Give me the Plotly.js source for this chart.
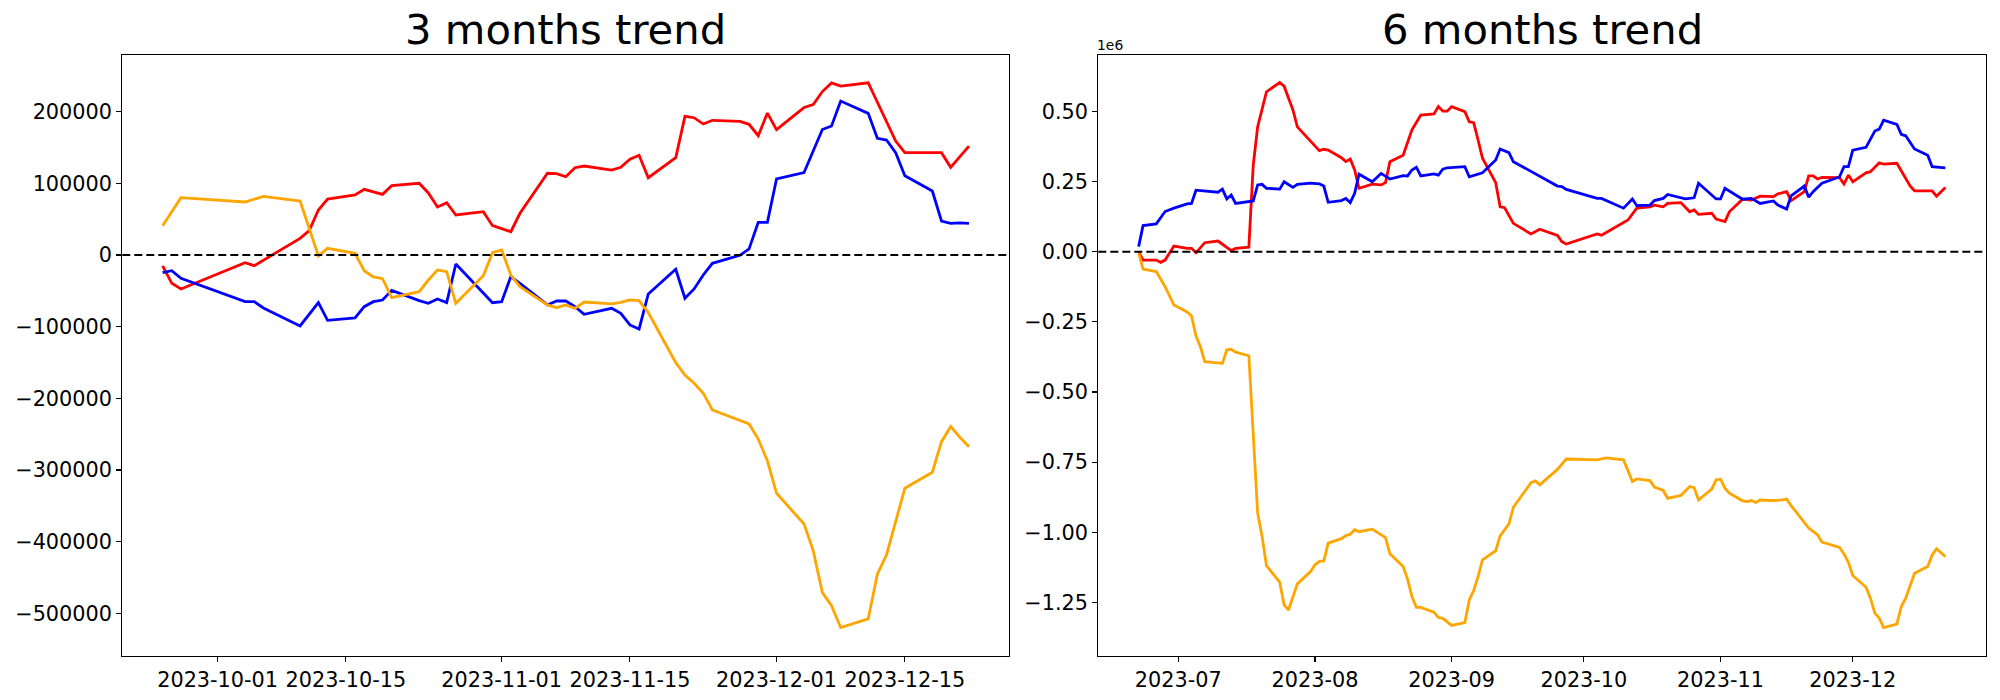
<!DOCTYPE html>
<html>
<head>
<meta charset="utf-8">
<script src="https://cdn.plot.ly/plotly-3.0.1.min.js"></script>
<style>html,body{margin:0;padding:0;background:#fff;}#chart{width:2000px;height:700px;}</style>
</head>
<body>
<div id="chart"></div>
<script>
// ---------- 3 months trend (left) ----------
const dates3 = ['2023-09-25','2023-09-26','2023-09-27','2023-10-04','2023-10-05','2023-10-06','2023-10-10','2023-10-11','2023-10-12','2023-10-13',
  '2023-10-16','2023-10-17','2023-10-18','2023-10-19','2023-10-20','2023-10-23','2023-10-24','2023-10-25','2023-10-26','2023-10-27',
  '2023-10-30','2023-10-31','2023-11-01','2023-11-02','2023-11-03','2023-11-06','2023-11-07','2023-11-08','2023-11-09','2023-11-10',
  '2023-11-13','2023-11-14','2023-11-15','2023-11-16','2023-11-17','2023-11-20','2023-11-21','2023-11-22','2023-11-23','2023-11-24',
  '2023-11-27','2023-11-28','2023-11-29','2023-11-30','2023-12-01','2023-12-04','2023-12-05','2023-12-06','2023-12-07','2023-12-08',
  '2023-12-11','2023-12-12','2023-12-13','2023-12-14','2023-12-15','2023-12-18','2023-12-19','2023-12-20','2023-12-21','2023-12-22'];
const red3 = [-15300,-39500,-47400,-10700,-14900,-7100,23200,33900,62800,78100,
  83700,91600,88300,84600,96700,100000,86500,67000,73000,55800,
  60400,40900,36700,32500,58200,114000,113400,109200,121800,124100,
  118500,122300,133500,139100,107800,135700,193400,191500,182700,187900,
  186500,182300,166400,198000,174800,205700,210000,228000,240000,235700,
  240300,213000,186100,159000,142700,142700,142700,122300,137000,152000];
const blue3 = [-24600,-21900,-32600,-65100,-65100,-73900,-99000,-82700,-66500,-91100,
  -87900,-72100,-65100,-62800,-49300,-63700,-67400,-61400,-66500,-12600,
  -52000,-66500,-65100,-30200,-39500,-69700,-64200,-64200,-72100,-82700,
  -74400,-81300,-97600,-103200,-54400,-20000,-60400,-47400,-27900,-11600,
  -400,8400,45600,45600,106000,115000,145000,175000,180000,214800,
  197600,162800,160400,142700,110600,89300,47400,44200,44700,44200];
const orange3 = [40900,60400,79900,73900,77800,81800,75300,37000,-1400,9300,
  2300,-21900,-30700,-33000,-59500,-51100,-34900,-20900,-23200,-67400,
  -28800,3200,7000,-27900,-44200,-69700,-73500,-69700,-74400,-65600,
  -68300,-66000,-62800,-63700,-80400,-150200,-167400,-178900,-192900,-216200,
  -231100,-235700,-256800,-287100,-332400,-375200,-412400,-471000,-489100,-519800,
  -507700,-445300,-418400,-372800,-325400,-303100,-260400,-239500,-254300,-267400];
const ticks3 = ['2023-10-01','2023-10-15','2023-11-01','2023-11-15','2023-12-01','2023-12-15'];
const yTicks3 = [-500000,-400000,-300000,-200000,-100000,0,100000,200000];

// ---------- 6 months trend (right), values in units of 1e6 ----------
const dates6Red = ['2023-06-22','2023-06-23','2023-06-26','2023-06-27','2023-06-28','2023-06-30','2023-07-03','2023-07-04','2023-07-05','2023-07-07',
  '2023-07-10','2023-07-13','2023-07-14','2023-07-17','2023-07-18','2023-07-19','2023-07-21','2023-07-24','2023-07-25','2023-07-27',
  '2023-07-28','2023-08-02','2023-08-03','2023-08-04','2023-08-07','2023-08-08','2023-08-09','2023-08-10','2023-08-11','2023-08-14',
  '2023-08-16','2023-08-17','2023-08-18','2023-08-21','2023-08-23','2023-08-25','2023-08-28','2023-08-29','2023-08-30','2023-08-31',
  '2023-09-01','2023-09-04','2023-09-05','2023-09-06','2023-09-07','2023-09-08','2023-09-11','2023-09-12','2023-09-13','2023-09-15',
  '2023-09-19','2023-09-21','2023-09-25','2023-09-26','2023-09-27','2023-10-04','2023-10-05','2023-10-10','2023-10-11','2023-10-13',
  '2023-10-16','2023-10-17','2023-10-19','2023-10-20','2023-10-23','2023-10-25','2023-10-26','2023-10-27','2023-10-30','2023-10-31',
  '2023-11-02','2023-11-03','2023-11-06','2023-11-08','2023-11-10','2023-11-13','2023-11-14','2023-11-16','2023-11-17','2023-11-20',
  '2023-11-21','2023-11-22','2023-11-23','2023-11-24','2023-11-28','2023-11-29','2023-11-30','2023-12-01','2023-12-04','2023-12-05',
  '2023-12-07','2023-12-08','2023-12-11','2023-12-14','2023-12-15','2023-12-19','2023-12-20','2023-12-22'];
const red6 = [0.000,-0.030,-0.030,-0.038,-0.030,0.020,0.012,0.012,-0.004,0.032,
  0.038,0.004,0.012,0.016,0.309,0.445,0.570,0.603,0.590,0.505,
  0.445,0.360,0.365,0.362,0.335,0.321,0.330,0.291,0.226,0.241,
  0.238,0.246,0.321,0.344,0.434,0.487,0.491,0.517,0.501,0.501,
  0.517,0.499,0.463,0.460,0.398,0.333,0.246,0.160,0.157,0.101,
  0.063,0.080,0.058,0.036,0.027,0.063,0.059,0.103,0.113,0.155,
  0.160,0.166,0.160,0.172,0.175,0.142,0.149,0.133,0.137,0.116,
  0.107,0.142,0.187,0.184,0.198,0.196,0.206,0.214,0.182,0.214,
  0.270,0.270,0.259,0.265,0.264,0.241,0.273,0.249,0.281,0.285,
  0.317,0.312,0.315,0.234,0.217,0.217,0.198,0.229];

const dates6Blue = ['2023-06-22','2023-06-23','2023-06-26','2023-06-27','2023-06-28','2023-06-30','2023-07-03','2023-07-04','2023-07-05','2023-07-10',
  '2023-07-11','2023-07-12','2023-07-13','2023-07-14','2023-07-18','2023-07-19','2023-07-20','2023-07-21','2023-07-24','2023-07-25',
  '2023-07-27','2023-07-28','2023-07-31','2023-08-02','2023-08-03','2023-08-04','2023-08-07','2023-08-08','2023-08-09','2023-08-10',
  '2023-08-11','2023-08-14','2023-08-16','2023-08-18','2023-08-21','2023-08-22','2023-08-23','2023-08-24','2023-08-25','2023-08-28',
  '2023-08-29','2023-08-30','2023-08-31','2023-09-04','2023-09-05','2023-09-08','2023-09-11','2023-09-12','2023-09-14','2023-09-15',
  '2023-09-19','2023-09-22','2023-09-25','2023-09-26','2023-09-27','2023-10-04','2023-10-05','2023-10-10','2023-10-12','2023-10-13',
  '2023-10-16','2023-10-17','2023-10-19','2023-10-20','2023-10-24','2023-10-26','2023-10-27','2023-10-31','2023-11-01','2023-11-02',
  '2023-11-06','2023-11-08','2023-11-10','2023-11-13','2023-11-14','2023-11-16','2023-11-17','2023-11-20','2023-11-21','2023-11-22',
  '2023-11-24','2023-11-27','2023-11-28','2023-11-29','2023-11-30','2023-12-01','2023-12-04','2023-12-06','2023-12-07','2023-12-08',
  '2023-12-11','2023-12-12','2023-12-13','2023-12-15','2023-12-18','2023-12-19','2023-12-20','2023-12-22'];
const blue6 = [0.018,0.093,0.099,0.119,0.143,0.155,0.170,0.172,0.219,0.212,
  0.223,0.188,0.202,0.172,0.181,0.238,0.240,0.226,0.223,0.249,
  0.229,0.240,0.244,0.242,0.234,0.176,0.182,0.190,0.175,0.208,
  0.276,0.249,0.279,0.259,0.271,0.270,0.291,0.301,0.270,0.277,
  0.273,0.294,0.299,0.303,0.267,0.281,0.327,0.366,0.353,0.321,
  0.285,0.259,0.234,0.232,0.222,0.190,0.190,0.155,0.188,0.164,
  0.166,0.182,0.190,0.204,0.188,0.192,0.244,0.188,0.188,0.226,
  0.187,0.190,0.172,0.181,0.166,0.152,0.199,0.234,0.194,0.214,
  0.244,0.261,0.267,0.303,0.303,0.362,0.372,0.430,0.437,0.469,
  0.454,0.418,0.413,0.366,0.344,0.303,0.301,0.299];

const dates6Orange = ['2023-06-22','2023-06-23','2023-06-26','2023-06-28','2023-06-30','2023-07-03','2023-07-04','2023-07-05','2023-07-06','2023-07-07',
  '2023-07-11','2023-07-12','2023-07-13','2023-07-14','2023-07-17','2023-07-18','2023-07-19','2023-07-20','2023-07-21','2023-07-24',
  '2023-07-25','2023-07-26','2023-07-28','2023-07-31','2023-08-01','2023-08-02','2023-08-03','2023-08-04','2023-08-07','2023-08-08',
  '2023-08-09','2023-08-10','2023-08-11','2023-08-14','2023-08-17','2023-08-18','2023-08-21','2023-08-22','2023-08-23','2023-08-24',
  '2023-08-25','2023-08-28','2023-08-29','2023-08-30','2023-09-01','2023-09-04','2023-09-05','2023-09-06','2023-09-07','2023-09-08',
  '2023-09-11','2023-09-12','2023-09-14','2023-09-15','2023-09-18','2023-09-19','2023-09-20','2023-09-21','2023-09-25','2023-09-27',
  '2023-10-04','2023-10-06','2023-10-10','2023-10-12','2023-10-13','2023-10-16','2023-10-17','2023-10-18','2023-10-19','2023-10-20',
  '2023-10-23','2023-10-25','2023-10-26','2023-10-27','2023-10-30','2023-10-31','2023-11-01','2023-11-02','2023-11-03','2023-11-06',
  '2023-11-07','2023-11-08','2023-11-09','2023-11-10','2023-11-13','2023-11-15','2023-11-16','2023-11-17','2023-11-20','2023-11-21',
  '2023-11-23','2023-11-24','2023-11-28','2023-11-29','2023-11-30','2023-12-01','2023-12-04','2023-12-05','2023-12-06','2023-12-07',
  '2023-12-08','2023-12-11','2023-12-12','2023-12-13','2023-12-15','2023-12-18','2023-12-19','2023-12-20','2023-12-22'];
const orange6 = [-0.004,-0.062,-0.071,-0.125,-0.190,-0.215,-0.229,-0.300,-0.338,-0.392,
  -0.398,-0.350,-0.348,-0.358,-0.371,-0.660,-0.932,-1.015,-1.119,-1.178,
  -1.259,-1.277,-1.184,-1.140,-1.116,-1.104,-1.102,-1.039,-1.023,-1.012,
  -1.007,-0.991,-0.998,-0.989,-1.019,-1.077,-1.122,-1.167,-1.229,-1.268,
  -1.268,-1.285,-1.304,-1.307,-1.332,-1.322,-1.241,-1.208,-1.158,-1.098,
  -1.066,-1.013,-0.970,-0.911,-0.843,-0.823,-0.817,-0.831,-0.776,-0.739,
  -0.742,-0.735,-0.742,-0.819,-0.810,-0.816,-0.839,-0.846,-0.851,-0.879,
  -0.869,-0.837,-0.841,-0.885,-0.846,-0.813,-0.811,-0.843,-0.861,-0.888,
  -0.891,-0.887,-0.894,-0.885,-0.887,-0.885,-0.882,-0.905,-0.968,-0.985,
  -1.009,-1.035,-1.054,-1.077,-1.107,-1.154,-1.196,-1.235,-1.288,-1.306,
  -1.340,-1.327,-1.265,-1.235,-1.146,-1.122,-1.081,-1.059,-1.087];
const ticks6 = ['2023-07-01','2023-08-01','2023-09-01','2023-10-01','2023-11-01','2023-12-01'];
const yTicks6 = [-1.25,-1.00,-0.75,-0.50,-0.25,0.00,0.25,0.50];

const titles = ['3 months trend', '6 months trend'];
const colors = {red: '#ff0000', blue: '#0000ff', orange: '#ffa500'};

const LW = 2.8;
function line(x, y, c, xa, ya) {
  return {x: x, y: y, type: 'scatter', mode: 'lines', line: {color: c, width: LW}, xaxis: xa, yaxis: ya, hoverinfo: 'skip'};
}
const traces = [
  line(dates3, red3, colors.red, 'x', 'y'),
  line(dates3, blue3, colors.blue, 'x', 'y'),
  line(dates3, orange3, colors.orange, 'x', 'y'),
  line(dates6Red, red6, colors.red, 'x2', 'y2'),
  line(dates6Blue, blue6, colors.blue, 'x2', 'y2'),
  line(dates6Orange, orange6, colors.orange, 'x2', 'y2')
];

const FONT = 'DejaVu Sans, Liberation Sans, sans-serif';
const tickFont = {family: FONT, size: 20.8, color: '#000'};
const common = {
  showline: true, linecolor: '#000', linewidth: 1.1, mirror: true,
  ticks: 'outside', ticklen: 5, tickwidth: 1.1, tickcolor: '#000',
  showgrid: false, zeroline: false, tickfont: tickFont, fixedrange: true
};
const yDom = [1 - 655.7/700, 1 - 55/700];
const layout = {
  width: 2000, height: 700,
  margin: {l: 0, r: 0, t: 0, b: 0},
  paper_bgcolor: '#fff', plot_bgcolor: '#fff',
  showlegend: false,
  font: {family: FONT, color: '#000'},
  xaxis: Object.assign({}, common, {
    domain: [122.3/2000, 1009.3/2000], anchor: 'y', type: 'date',
    range: ['2023-09-20 14:24', '2023-12-26 09:36'],
    tickmode: 'array', tickvals: ticks3, ticktext: ticks3
  }),
  yaxis: Object.assign({}, common, {
    domain: yDom, anchor: 'x',
    range: [-559000, 279000],
    tickmode: 'array', tickvals: yTicks3, tickformat: 'd'
  }),
  xaxis2: Object.assign({}, common, {
    domain: [1098.3/2000, 1985.7/2000], anchor: 'y2', type: 'date',
    range: ['2023-06-12 20:24', '2023-12-31 03:36'],
    tickmode: 'array', tickvals: ticks6, ticktext: ticks6.map(function(d){return d.slice(0,7);})
  }),
  yaxis2: Object.assign({}, common, {
    domain: yDom, anchor: 'x2',
    range: [-1.440, 0.701],
    tickmode: 'array', tickvals: yTicks6, tickformat: '.2f'
  }),
  shapes: [
    {type: 'line', xref: 'x domain', yref: 'y', x0: 0, x1: 1, y0: 0, y1: 0, layer: 'above',
     line: {color: '#000', width: 2.1, dash: '8px,4px'}},
    {type: 'line', xref: 'x2 domain', yref: 'y2', x0: 0, x1: 1, y0: 0, y1: 0, layer: 'above',
     line: {color: '#000', width: 2.1, dash: '8px,4px'}}
  ],
  annotations: [
    {text: titles[0], xref: 'paper', yref: 'paper', x: 565.8/2000, y: yDom[1], xanchor: 'center', yanchor: 'bottom',
     yshift: -1, showarrow: false, font: {family: FONT, size: 41.7, color: '#000'}},
    {text: titles[1], xref: 'paper', yref: 'paper', x: 1542/2000, y: yDom[1], xanchor: 'center', yanchor: 'bottom',
     yshift: -1, showarrow: false, font: {family: FONT, size: 41.7, color: '#000'}},
    {text: '1e6', xref: 'paper', yref: 'paper', x: 1098.3/2000, y: yDom[1], xanchor: 'left', yanchor: 'bottom',
     xshift: -3, yshift: 0, showarrow: false, font: {family: FONT, size: 13.9, color: '#000'}}
  ]
};
Plotly.newPlot('chart', traces, layout, {displayModeBar: false, staticPlot: true});
</script>
</body>
</html>
